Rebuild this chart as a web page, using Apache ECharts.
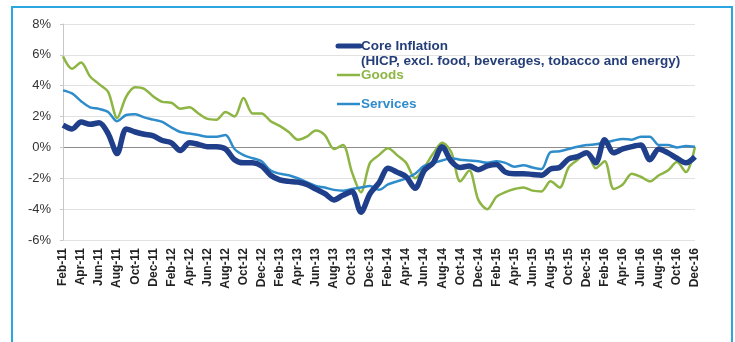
<!DOCTYPE html>
<html>
<head>
<meta charset="utf-8">
<script src="https://cdn.jsdelivr.net/npm/echarts@6/dist/echarts.min.js"></script>
<style>
html,body{margin:0;padding:0;background:#fff;}
#chart{width:735px;height:342px;}
</style>
</head>
<body>
<div id="chart"></div>
<script>
var months = ['Feb-11','Mar-11','Apr-11','May-11','Jun-11','Jul-11','Aug-11','Sep-11','Oct-11','Nov-11','Dec-11',
'Jan-12','Feb-12','Mar-12','Apr-12','May-12','Jun-12','Jul-12','Aug-12','Sep-12','Oct-12','Nov-12','Dec-12',
'Jan-13','Feb-13','Mar-13','Apr-13','May-13','Jun-13','Jul-13','Aug-13','Sep-13','Oct-13','Nov-13','Dec-13',
'Jan-14','Feb-14','Mar-14','Apr-14','May-14','Jun-14','Jul-14','Aug-14','Sep-14','Oct-14','Nov-14','Dec-14',
'Jan-15','Feb-15','Mar-15','Apr-15','May-15','Jun-15','Jul-15','Aug-15','Sep-15','Oct-15','Nov-15','Dec-15',
'Jan-16','Feb-16','Mar-16','Apr-16','May-16','Jun-16','Jul-16','Aug-16','Sep-16','Oct-16','Nov-16','Dec-16'];

var coreInflation = [1.45,1.2,1.65,1.5,1.6,0.9,-0.4,1.2,1.0,0.85,0.75,
0.45,0.3,-0.2,0.3,0.2,0.05,0.05,-0.1,-0.8,-1.0,-1.0,-1.2,
-1.8,-2.1,-2.2,-2.25,-2.4,-2.7,-3.0,-3.4,-3.1,-2.85,-4.2,-3.0,
-2.3,-1.35,-1.6,-1.9,-2.65,-1.5,-1.0,0.05,-0.9,-1.3,-1.2,-1.45,
-1.2,-1.1,-1.6,-1.7,-1.7,-1.75,-1.8,-1.4,-1.3,-0.75,-0.6,-0.35,
-1.0,0.5,-0.35,-0.1,0.05,0.15,-0.8,-0.1,-0.35,-0.7,-1.0,-0.6];

var goods = [5.9,5.1,5.5,4.6,4.1,3.6,1.9,3.3,3.9,3.8,3.3,
2.95,2.9,2.5,2.6,2.2,1.85,1.8,2.3,2.0,3.2,2.2,2.2,
1.7,1.4,1.0,0.5,0.7,1.1,0.8,-0.1,0.15,-1.6,-2.9,-1.0,
-0.5,-0.05,-0.5,-1.0,-2.0,-1.3,-0.4,0.3,-0.3,-2.2,-1.5,-3.4,
-4.0,-3.2,-2.9,-2.7,-2.6,-2.8,-2.85,-2.2,-2.6,-1.3,-0.8,-0.3,
-1.35,-0.9,-2.7,-2.4,-1.7,-1.9,-2.2,-1.8,-1.5,-0.95,-1.6,0.05];

var services = [3.7,3.5,3.0,2.6,2.5,2.3,1.7,2.1,2.15,1.95,1.8,
1.65,1.3,1.0,0.9,0.8,0.7,0.7,0.8,-0.1,-0.5,-0.7,-0.9,
-1.5,-1.7,-1.8,-2.0,-2.25,-2.5,-2.6,-2.75,-2.8,-2.7,-2.6,-2.5,
-2.75,-2.4,-2.2,-2.0,-1.7,-1.2,-1.0,-0.85,-0.7,-0.8,-0.85,-0.9,
-1.0,-0.9,-1.0,-1.25,-1.15,-1.3,-1.4,-0.3,-0.25,-0.1,0.05,0.15,
0.2,0.3,0.45,0.55,0.5,0.7,0.7,0.15,0.15,0.0,0.1,0.05];

var legendCore = 'Core Inflation';
var legendCoreSub = '(HICP, excl. food, beverages, tobacco and energy)';
var legendGoods = 'Goods';
var legendServices = 'Services';

var cNavy = '#1f3f8a', cGreen = '#8db543', cBlue = '#2f8ccb';
var font = '"Liberation Sans", Arial, sans-serif';

var chart = echarts.init(document.getElementById('chart'));
var gridColors = ['#e2e2e2','#e2e2e2','#e2e2e2','#8c8c8c','#e2e2e2','#e2e2e2','#e2e2e2','#e2e2e2'];

chart.setOption({
  animation: false,
  backgroundColor: '#fff',
  textStyle: {fontFamily: font},
  grid: {left: 63, right: 40, top: 24, bottom: 102},
  xAxis: {
    type: 'category',
    data: months,
    boundaryGap: false,
    axisLine: {show: false},
    axisTick: {show: false},
    splitLine: {show: false},
    axisLabel: {interval: 1, rotate: 90, fontSize: 12, fontWeight: 'bold', color: '#222', margin: 8, fontFamily: font}
  },
  yAxis: {
    type: 'value',
    min: -6, max: 8, interval: 2,
    axisLine: {show: true, lineStyle: {color: '#c8c8c8'}},
    axisTick: {show: true, length: 3, lineStyle: {color: '#c8c8c8'}},
    axisLabel: {formatter: '{value}%', fontSize: 13, color: '#333', margin: 12, fontFamily: font},
    splitLine: {show: true, lineStyle: {color: gridColors, width: 1}}
  },
  series: [
    {name: legendGoods, type: 'line', data: goods, smooth: 0.3, symbol: 'none', z: 2,
     lineStyle: {color: cGreen, width: 2.5}},
    {name: legendServices, type: 'line', data: services, smooth: 0.3, symbol: 'none', z: 3,
     lineStyle: {color: cBlue, width: 2.5}},
    {name: legendCore, type: 'line', data: coreInflation, smooth: 0.3, symbol: 'none', z: 4,
     lineStyle: {color: cNavy, width: 5.5}}
  ],
  graphic: [
    {type: 'rect', shape: {x: 12, y: 7, width: 720, height: 360}, style: {fill: 'none', stroke: '#2aa7e0', lineWidth: 2}, z: 0, silent: true},
    {type: 'line', shape: {x1: 338, y1: 46, x2: 360, y2: 46}, style: {stroke: cNavy, lineWidth: 5, lineCap: 'round'}, z: 10},
    {type: 'text', x: 361, y: 46, style: {text: legendCore, fill: '#253e78', font: 'bold 13.5px ' + font, textVerticalAlign: 'middle'}, z: 10},
    {type: 'text', x: 361, y: 61, style: {text: legendCoreSub, fill: '#253e78', font: 'bold 13.5px ' + font, textVerticalAlign: 'middle'}, z: 10},
    {type: 'line', shape: {x1: 337, y1: 75, x2: 360, y2: 75}, style: {stroke: cGreen, lineWidth: 2.5}, z: 10},
    {type: 'text', x: 361, y: 75, style: {text: legendGoods, fill: cGreen, font: 'bold 13.5px ' + font, textVerticalAlign: 'middle'}, z: 10},
    {type: 'line', shape: {x1: 337, y1: 104, x2: 360, y2: 104}, style: {stroke: cBlue, lineWidth: 2.5}, z: 10},
    {type: 'text', x: 361, y: 104, style: {text: legendServices, fill: cBlue, font: 'bold 13.5px ' + font, textVerticalAlign: 'middle'}, z: 10}
  ]
});
</script>
</body>
</html>
